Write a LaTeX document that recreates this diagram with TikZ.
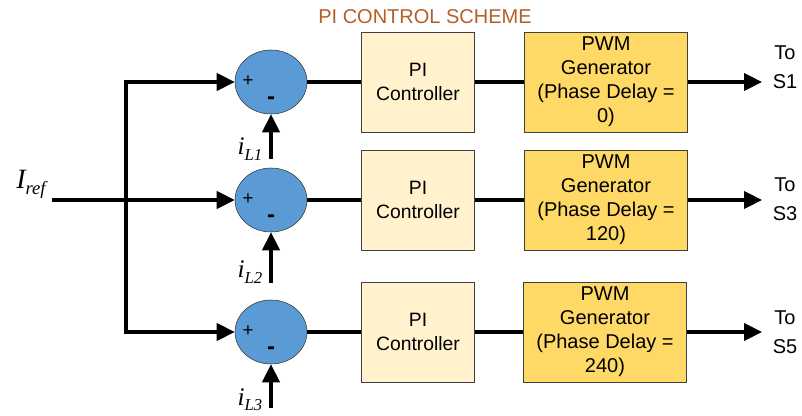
\documentclass[tikz,border=0pt]{standalone}
\usepackage{fontspec}
\setmainfont{Liberation Sans}
\newfontfamily\tnr{Liberation Serif}
\usepackage{xcolor}
\usetikzlibrary{shapes.geometric, arrows.meta, positioning, calc}

\definecolor{sumblue}{RGB}{91,155,213}
\definecolor{picream}{RGB}{255,242,204}
\definecolor{pwmgold}{RGB}{255,217,102}
\definecolor{titlebrown}{RGB}{180,95,40}

\newcommand{\curlbl}[1]{{\tnr\itshape\fontsize{19}{19}\selectfont i\raisebox{-0.45ex}{\fontsize{12.5}{12.5}\selectfont L#1}}}

\begin{document}
\begin{tikzpicture}[
            x=0.75pt, y=-0.75pt,
            sumc/.style={ellipse, draw=black!80, thin, fill=sumblue,
                    minimum width=54pt, minimum height=48pt, inner sep=0pt},
            pibox/.style={rectangle, draw=black!75, thin, fill=picream,
                    minimum width=84.5pt, minimum height=75pt, align=center,
                    font=\fontsize{14.5}{18}\selectfont},
            pwmbox/.style={rectangle, draw=black!75, thin, fill=pwmgold,
                    minimum width=122pt, minimum height=75pt, align=center,
                    inner sep=1pt, font=\fontsize{15}{18}\selectfont},
            outlbl/.style={align=center, font=\fontsize{15}{22}\selectfont},
            plus/.style={font=\fontsize{14}{14}\selectfont},
            minus/.style={font=\bfseries\fontsize{18}{18}\selectfont},
            wire/.style={draw, line width=2.3pt},
            arr/.style={draw, line width=2.3pt, -{Triangle[length=13.5pt,width=13pt]}}
            ]
            \useasboundingbox (0,0) rectangle (802,416);

            %% ---- Title ----
            \node[text=titlebrown, font=\fontsize{15}{15}\selectfont] (title) at (425,17) {PI CONTROL SCHEME};

            %% ---- Input ----
            \node (iref) at (31,184) {\tnr\itshape\fontsize{21}{21}\selectfont I\raisebox{-0.45ex}{\fontsize{14}{14}\selectfont ref}};
            \coordinate (in) at (52,200);
            \coordinate (jn) at (126,200);

            %% Row 1 (y=82)
            \node[sumc] (s1) at (271,82) {};
            \node[plus] (p1) at (248,81) {+};
            \node[minus] (m1) at (271,101) {-};
            \node[pibox] (pi1) at (418,82) {PI\\Controller};
            \node[pwmbox] (pwm1) at (606,82) {PWM\\Generator\\(Phase Delay =\\0)};
            \node[outlbl] (to1) at (785,67) {To\\S1};
            \coordinate (o1) at (762,82);
            \coordinate (f1) at (271,159);
            \node (il1) at (250,149) {\curlbl{1}};

            %% Row 2 (y=200)
            \node[sumc] (s2) at (271,200) {};
            \node[plus] (p2) at (248,199) {+};
            \node[minus] (m2) at (271,219) {-};
            \node[pibox] (pi2) at (418,200) {PI\\Controller};
            \node[pwmbox] (pwm2) at (606,200) {PWM\\Generator\\(Phase Delay =\\120)};
            \node[outlbl] (to2) at (785,199) {To\\S3};
            \coordinate (o2) at (762,200);
            \coordinate (f2) at (271,283);
            \node (il2) at (250,272) {\curlbl{2}};

            %% Row 3 (y=332)
            \node[sumc] (s3) at (271,332) {};
            \node[plus] (p3) at (248,331) {+};
            \node[minus] (m3) at (271,351) {-};
            \node[pibox] (pi3) at (418,332) {PI\\Controller};
            \node[pwmbox] (pwm3) at (605,332) {PWM\\Generator\\(Phase Delay =\\240)};
            \node[outlbl] (to3) at (785,332) {To\\S5};
            \coordinate (o3) at (762,332);
            \coordinate (f3) at (271,408);
            \node (il3) at (250,400) {\curlbl{3}};

            %% ---- Connections ----
            % reference split
            \draw[arr] (in) -- (s2.west);
            \draw[arr] (jn) |- (s1.west);
            \draw[arr] (jn) |- (s3.west);
            % feedback currents
            \draw[arr] (f1) -- (s1.south);
            \draw[arr] (f2) -- (s2.south);
            \draw[arr] (f3) -- (s3.south);
            % error -> PI -> PWM -> switch
            \draw[wire] (s1.east) -- (pi1.west);
            \draw[wire] (pi1.east) -- (pwm1.west);
            \draw[arr] (pwm1.east) -- (o1);
            \draw[wire] (s2.east) -- (pi2.west);
            \draw[wire] (pi2.east) -- (pwm2.west);
            \draw[arr] (pwm2.east) -- (o2);
            \draw[wire] (s3.east) -- (pi3.west);
            \draw[wire] (pi3.east) -- (pwm3.west);
            \draw[arr] (pwm3.east) -- (o3);
        \end{tikzpicture}
\end{document}
